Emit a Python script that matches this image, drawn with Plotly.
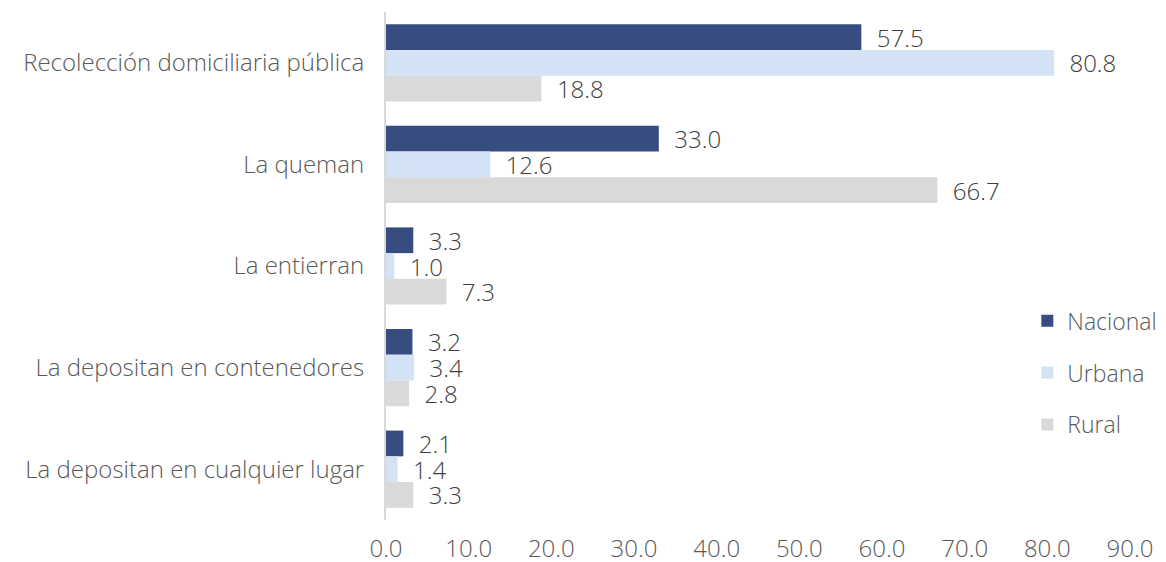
import plotly.graph_objects as go

categories = [
    "Recolección domiciliaria pública",
    "La queman",
    "La entierran",
    "La depositan en contenedores",
    "La depositan en cualquier lugar",
]
nacional = [57.5, 33.0, 3.3, 3.2, 2.1]
urbana = [80.8, 12.6, 1.0, 3.4, 1.4]
rural = [18.8, 66.7, 7.3, 2.8, 3.3]
x_ticks = [0, 10, 20, 30, 40, 50, 60, 70, 80, 90]

series = [
    ("Nacional", nacional, "#374C80"),
    ("Urbana", urbana, "#D3E3F5"),
    ("Rural", rural, "#D9D9D9"),
]

font_family = "Open Sans"
text_color = "#595959"
fsize = 24

fig = go.Figure()
for name, vals, color in series:
    fig.add_trace(go.Bar(
        y=categories,
        x=vals,
        name=name,
        orientation="h",
        marker=dict(color=color, line=dict(width=0)),
        texttemplate="  %{x:.1f}",
        textposition="outside",
        constraintext="none",
        textfont=dict(family=font_family, size=fsize, color="#404040", weight=300),
        cliponaxis=False,
        legendgroup=name,
    ))

# the page body adds an 8px margin, so the figure is 8px smaller and shifted
fig.update_layout(
    barmode="group",
    bargap=0.24,
    bargroupgap=0,
    width=1158,
    height=554,
    margin=dict(l=378, r=26, t=4, b=42),
    plot_bgcolor="white",
    paper_bgcolor="white",
    font=dict(family=font_family, size=fsize, color=text_color, weight=300),
    legend=dict(
        x=0.862, y=0.29, xanchor="left", yanchor="middle",
        font=dict(size=23, color=text_color, weight=300),
        tracegroupgap=19,
        itemwidth=30,
        bgcolor="rgba(0,0,0,0)",
    ),
    xaxis=dict(
        range=[0, 90],
        tickvals=x_ticks,
        tickformat=".1f",
        showgrid=False,
        zeroline=False,
        showline=False,
        automargin=False,
        ticklabelstandoff=12,
        tickfont=dict(size=fsize, color=text_color, weight=300),
    ),
    yaxis=dict(
        autorange="reversed",
        showgrid=False,
        showline=True,
        linecolor="#D9D9D9",
        linewidth=2,
        ticks="",
        automargin=False,
        ticklabelstandoff=15,
        tickfont=dict(size=fsize, color=text_color, weight=300),
    ),
)

fig.write_html("out.html")
